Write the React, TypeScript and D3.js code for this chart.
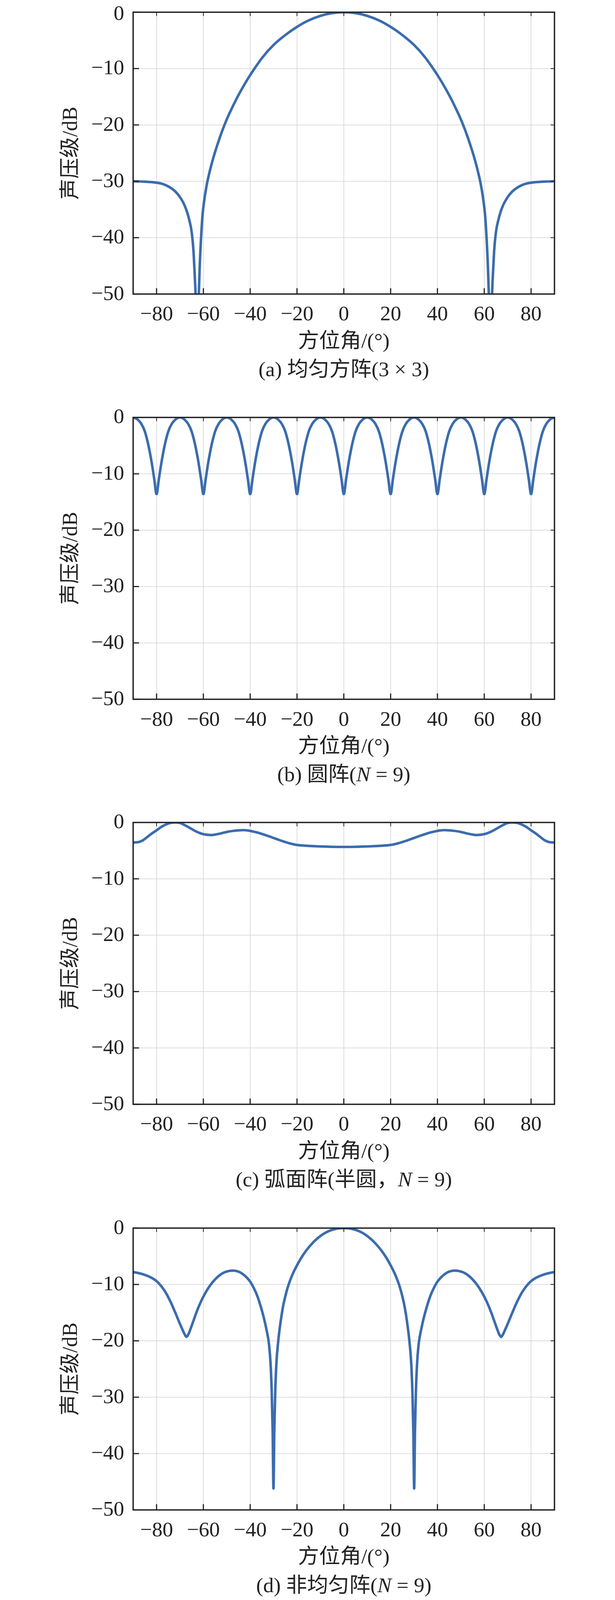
import React from 'react';
import * as d3 from 'd3';

// ---------- axes ----------
const X_DOMAIN: [number, number] = [-90, 90];
const Y_DOMAIN: [number, number] = [-50, 0];
const X_TICKS = [-80, -60, -40, -20, 0, 20, 40, 60, 80];
const Y_TICKS = [0, -10, -20, -30, -40, -50];
const X_LABEL = '方位角/(°)';
const Y_LABEL = '声压级/dB';

// ---------- (a) 均匀方阵 3×3 ----------
const aAngle = [
  -90, -86, -82, -80, -78, -76, -74, -72, -70, -68, -67, -66, -65, -64.2, -63.7, -63.3, -62.6, -61.95, -61.55, -61.05,
  -60.4, -59.5, -58.5, -57.5, -56, -54, -52, -50, -48, -46, -44, -42, -40, -38, -35, -30, -25, -20, -15, -10, -5, 0,
  5, 10, 15, 20, 25, 30, 35, 38, 40, 42, 44, 46, 48, 50, 52, 54, 56, 57.5, 58.5, 59.5,
  60.4, 61.05, 61.55, 61.95, 62.6, 63.3, 63.7, 64.2, 65, 66, 67, 68, 70, 72, 74, 76, 78, 80, 82, 86, 90,
];
const aLevel = [
  -30.0, -30.05, -30.15, -30.25, -30.4, -30.7, -31.15, -31.8, -32.8, -34.3, -35.4, -36.9, -39.0, -42.5, -46.5, -50.5, -64, -50, -45, -40.5,
  -36.2, -33.0, -30.5, -28.6, -26.2, -23.5, -21.1, -19.0, -17.2, -15.5, -13.95, -12.5, -11.15, -9.9, -8.15, -5.8, -4.05, -2.6, -1.45, -0.65, -0.16, 0,
  -0.16, -0.65, -1.45, -2.6, -4.05, -5.8, -8.15, -9.9, -11.15, -12.5, -13.95, -15.5, -17.2, -19.0, -21.1, -23.5, -26.2, -28.6, -30.5, -33.0,
  -36.2, -40.5, -45, -50, -64, -50.5, -46.5, -42.5, -39.0, -36.9, -35.4, -34.3, -32.8, -31.8, -31.15, -30.7, -30.4, -30.25, -30.15, -30.05, -30.0,
];

// ---------- (b) 圆阵 N=9 ----------
const bAngle = [
  -90, -88, -86.5, -85, -84, -83, -82, -81, -80, -79, -78, -77, -76, -75, -73.5, -72,
  -70, -68, -66.5, -65, -64, -63, -62, -61, -60, -59, -58, -57, -56, -55, -53.5, -52,
  -50, -48, -46.5, -45, -44, -43, -42, -41, -40, -39, -38, -37, -36, -35, -33.5, -32,
  -30, -28, -26.5, -25, -24, -23, -22, -21, -20, -19, -18, -17, -16, -15, -13.5, -12,
  -10, -8, -6.5, -5, -4, -3, -2, -1, 0, 1, 2, 3, 4, 5, 6.5, 8,
  10, 12, 13.5, 15, 16, 17, 18, 19, 20, 21, 22, 23, 24, 25, 26.5, 28,
  30, 32, 33.5, 35, 36, 37, 38, 39, 40, 41, 42, 43, 44, 45, 46.5, 48,
  50, 52, 53.5, 55, 56, 57, 58, 59, 60, 61, 62, 63, 64, 65, 66.5, 68,
  70, 72, 73.5, 75, 76, 77, 78, 79, 80, 81, 82, 83, 84, 85, 86.5, 88,
  90,
];
const bLevel = [
  0, -0.4, -1.15, -2.5, -4.0, -5.9, -8.2, -10.9, -13.6, -10.9, -8.2, -5.9, -4.0, -2.5, -1.15, -0.4,
  0, -0.4, -1.15, -2.5, -4.0, -5.9, -8.2, -10.9, -13.6, -10.9, -8.2, -5.9, -4.0, -2.5, -1.15, -0.4,
  0, -0.4, -1.15, -2.5, -4.0, -5.9, -8.2, -10.9, -13.6, -10.9, -8.2, -5.9, -4.0, -2.5, -1.15, -0.4,
  0, -0.4, -1.15, -2.5, -4.0, -5.9, -8.2, -10.9, -13.6, -10.9, -8.2, -5.9, -4.0, -2.5, -1.15, -0.4,
  0, -0.4, -1.15, -2.5, -4.0, -5.9, -8.2, -10.9, -13.6, -10.9, -8.2, -5.9, -4.0, -2.5, -1.15, -0.4,
  0, -0.4, -1.15, -2.5, -4.0, -5.9, -8.2, -10.9, -13.6, -10.9, -8.2, -5.9, -4.0, -2.5, -1.15, -0.4,
  0, -0.4, -1.15, -2.5, -4.0, -5.9, -8.2, -10.9, -13.6, -10.9, -8.2, -5.9, -4.0, -2.5, -1.15, -0.4,
  0, -0.4, -1.15, -2.5, -4.0, -5.9, -8.2, -10.9, -13.6, -10.9, -8.2, -5.9, -4.0, -2.5, -1.15, -0.4,
  0, -0.4, -1.15, -2.5, -4.0, -5.9, -8.2, -10.9, -13.6, -10.9, -8.2, -5.9, -4.0, -2.5, -1.15, -0.4,
  0,
];

// ---------- (c) 弧面阵 半圆 N=9 ----------
const cAngle = [
  -90, -88, -86, -84, -82, -80, -78, -76, -74, -72, -70, -68, -66, -64, -62, -60, -58, -56.5, -55, -53,
  -51, -49, -47, -45, -43, -41, -39, -37, -35, -33, -31, -29, -27, -25, -23, -21, -19, -17, -15, -10, -5, 0,
  5, 10, 15, 17, 19, 21, 23, 25, 27, 29, 31, 33, 35, 37, 39, 41, 43, 45, 47, 49, 51,
  53, 55, 56.5, 58, 60, 62, 64, 66, 68, 70, 72, 74, 76, 78, 80, 82, 84, 86, 88, 90,
];
const cLevel = [
  -3.55, -3.5, -3.2, -2.6, -1.95, -1.4, -0.8, -0.35, -0.07, 0, -0.1, -0.46, -0.92, -1.4, -1.8, -2.07, -2.2, -2.23, -2.15, -1.98,
  -1.78, -1.6, -1.48, -1.4, -1.36, -1.42, -1.58, -1.78, -2.03, -2.3, -2.6, -2.9, -3.2, -3.47, -3.72, -3.92, -4.03, -4.1, -4.16, -4.25, -4.32, -4.34,
  -4.32, -4.25, -4.16, -4.1, -4.03, -3.92, -3.72, -3.47, -3.2, -2.9, -2.6, -2.3, -2.03, -1.78, -1.58, -1.42, -1.36, -1.4, -1.48, -1.6, -1.78,
  -1.98, -2.15, -2.23, -2.2, -2.07, -1.8, -1.4, -0.92, -0.46, -0.1, 0, -0.07, -0.35, -0.8, -1.4, -1.95, -2.6, -3.2, -3.5, -3.55,
];

// ---------- (d) 非均匀阵 N=9 ----------
const dAngle = [
  -90, -87, -85, -82, -80, -78, -76, -74, -72, -70, -69, -68, -67.2, -66.4, -65.5, -64.5, -63, -61, -59, -57,
  -55, -53, -51, -49, -47.4, -45.5, -43.5, -41.5, -40, -38.5, -37, -35.5, -34, -33, -32, -31.3, -30.8, -30.4, -30.05, -29.7,
  -29.3, -28.8, -28, -27, -26, -25, -23.8, -22, -20, -18, -16, -14, -12, -10, -8, -6, -4, -2, 0,
  2, 4, 6, 8, 10, 12, 14, 16, 18, 20, 22, 23.8, 25, 26, 27, 28, 28.8, 29.3, 29.7, 30.05,
  30.4, 30.8, 31.3, 32, 33, 34, 35.5, 37, 38.5, 40, 41.5, 43.5, 45.5, 47.4, 49, 51, 53, 55, 57, 59,
  61, 63, 64.5, 65.5, 66.4, 67.2, 68, 69, 70, 72, 74, 76, 78, 80, 82, 85, 87, 90,
];
const dLevel = [
  -7.8, -8.05, -8.3, -8.85, -9.4, -10.3, -11.5, -13.1, -15.0, -17.0, -17.95, -18.85, -19.3, -18.85, -17.9, -16.75, -15.0, -13.0, -11.4, -10.1,
  -9.1, -8.35, -7.85, -7.6, -7.54, -7.65, -8.05, -8.75, -9.5, -10.6, -12.0, -13.9, -16.2, -18.1, -20.5, -24, -29, -36, -46.2, -36,
  -29, -24, -20, -16.6, -14.0, -12.1, -10.3, -8.3, -6.6, -5.15, -3.95, -2.95, -2.1, -1.4, -0.85, -0.45, -0.2, -0.05, 0,
  -0.05, -0.2, -0.45, -0.85, -1.4, -2.1, -2.95, -3.95, -5.15, -6.6, -8.3, -10.3, -12.1, -14.0, -16.6, -20, -24, -29, -36, -46.2,
  -36, -29, -24, -20.5, -18.1, -16.2, -13.9, -12.0, -10.6, -9.5, -8.75, -8.05, -7.65, -7.54, -7.6, -7.85, -8.35, -9.1, -10.1, -11.4,
  -13.0, -15.0, -16.75, -17.9, -18.85, -19.3, -18.85, -17.95, -17.0, -15.0, -13.1, -11.5, -10.3, -9.4, -8.85, -8.3, -8.05, -7.8,
];

// ---------- captions ----------
const captions: { t: string; i?: boolean }[][] = [
  [{ t: '(a) 均匀方阵(3 × 3)' }],
  [{ t: '(b) 圆阵(' }, { t: 'N', i: true }, { t: ' = 9)' }],
  [{ t: '(c) 弧面阵(半圆，' }, { t: 'N', i: true }, { t: ' = 9)' }],
  [{ t: '(d) 非均匀阵(' }, { t: 'N', i: true }, { t: ' = 9)' }],
];

const seriesAngles = [aAngle, bAngle, cAngle, dAngle];
const seriesLevels = [aLevel, bLevel, cLevel, dLevel];

// ---------- layout ----------
const W = 1575;
const H = 4130;
const LEFT = 341;
const RIGHT = 1420;
const PH = 727.5;
const TOPS = [31.5, 1077.5, 2123, 3170];
const FONT = "'Liberation Serif','Times New Roman','Noto Sans CJK SC',serif";
const BLUE = '#3b6cae';
const FS = 54;

const fmt = (v: number) => (v < 0 ? '\u2212' + Math.abs(v) : String(v));

function Panel({ idx }: { idx: number }) {
  const top = TOPS[idx];
  const bottom = top + PH;
  const x = d3.scaleLinear().domain(X_DOMAIN).range([LEFT, RIGHT]);
  const y = d3.scaleLinear().domain(Y_DOMAIN).range([bottom, top]);
  const angles = seriesAngles[idx];
  const levels = seriesLevels[idx];
  const pts: [number, number][] = angles.map((a, i) => [a, levels[i]]);
  const line = d3
    .line<[number, number]>()
    .x((d) => x(d[0]))
    .y((d) => y(d[1]))
    .curve(d3.curveMonotoneX);
  const clipId = `clip-${idx}`;
  const cx = (LEFT + RIGHT) / 2;
  return (
    <g>
      <defs>
        <clipPath id={clipId}>
          <rect x={LEFT} y={top} width={RIGHT - LEFT} height={PH} />
        </clipPath>
      </defs>
      <rect x={LEFT} y={top} width={RIGHT - LEFT} height={PH} fill="#fff" />
      {/* grid */}
      {X_TICKS.map((t) => (
        <line key={'gx' + t} x1={x(t)} x2={x(t)} y1={top} y2={bottom} stroke="#d9d9d9" strokeWidth={1.8} />
      ))}
      {Y_TICKS.filter((t) => t !== 0 && t !== -50).map((t) => (
        <line key={'gy' + t} x1={LEFT} x2={RIGHT} y1={y(t)} y2={y(t)} stroke="#d9d9d9" strokeWidth={1.8} />
      ))}
      {/* curve */}
      <path
        d={line(pts) || ''}
        fill="none"
        stroke={BLUE}
        strokeWidth={6.5}
        strokeLinejoin="round"
        strokeLinecap="round"
        clipPath={`url(#${clipId})`}
      />
      {/* ticks */}
      {X_TICKS.map((t) => (
        <g key={'tx' + t}>
          <line x1={x(t)} x2={x(t)} y1={bottom} y2={bottom - 15} stroke="#222" strokeWidth={3} />
          <line x1={x(t)} x2={x(t)} y1={top} y2={top + 10} stroke="#222" strokeWidth={2} />
        </g>
      ))}
      {Y_TICKS.map((t) => (
        <g key={'ty' + t}>
          <line x1={LEFT} x2={LEFT + 15} y1={y(t)} y2={y(t)} stroke="#222" strokeWidth={3} />
          <line x1={RIGHT} x2={RIGHT - 10} y1={y(t)} y2={y(t)} stroke="#222" strokeWidth={2} />
        </g>
      ))}
      {/* frame */}
      <rect x={LEFT} y={top} width={RIGHT - LEFT} height={PH} fill="none" stroke="#222" strokeWidth={3.5} />
      {/* tick labels */}
      {X_TICKS.map((t) => (
        <text key={'lx' + t} x={x(t)} y={bottom + 68} textAnchor="middle" fontFamily={FONT} fontSize={FS} fill="#222">
          {fmt(t)}
        </text>
      ))}
      {Y_TICKS.map((t) => (
        <text
          key={'ly' + t}
          x={LEFT - 23}
          y={Math.max(y(t) + 15, 51)}
          textAnchor="end"
          fontFamily={FONT}
          fontSize={FS}
          fill="#222"
        >
          {fmt(t)}
        </text>
      ))}
      {/* axis titles */}
      <text x={cx} y={bottom + 138} textAnchor="middle" fontFamily={FONT} fontSize={FS} fill="#222">
        {X_LABEL}
      </text>
      <text
        transform={`translate(197,${(top + bottom) / 2}) rotate(-90)`}
        textAnchor="middle"
        fontFamily={FONT}
        fontSize={FS}
        fill="#222"
      >
        {Y_LABEL}
      </text>
      {/* caption */}
      <text x={cx} y={bottom + 212} textAnchor="middle" fontFamily={FONT} fontSize={FS} fill="#222">
        {captions[idx].map((s, k) => (
          <tspan key={k} fontStyle={s.i ? 'italic' : 'normal'}>
            {s.t}
          </tspan>
        ))}
      </text>
    </g>
  );
}

export default function App() {
  return (
    <>
      <style>{'html,body{margin:0;padding:0;overflow:hidden;background:#fff;}'}</style>
      <svg
        viewBox={`0 0 ${W} ${H}`}
        preserveAspectRatio="none"
        style={{ position: 'fixed', left: 0, top: 0, width: '100vw', height: '100vh', display: 'block', background: '#fff' }}
      >
        <rect x={0} y={0} width={W} height={H} fill="#fff" />
        {[0, 1, 2, 3].map((i) => (
          <Panel key={i} idx={i} />
        ))}
      </svg>
    </>
  );
}
